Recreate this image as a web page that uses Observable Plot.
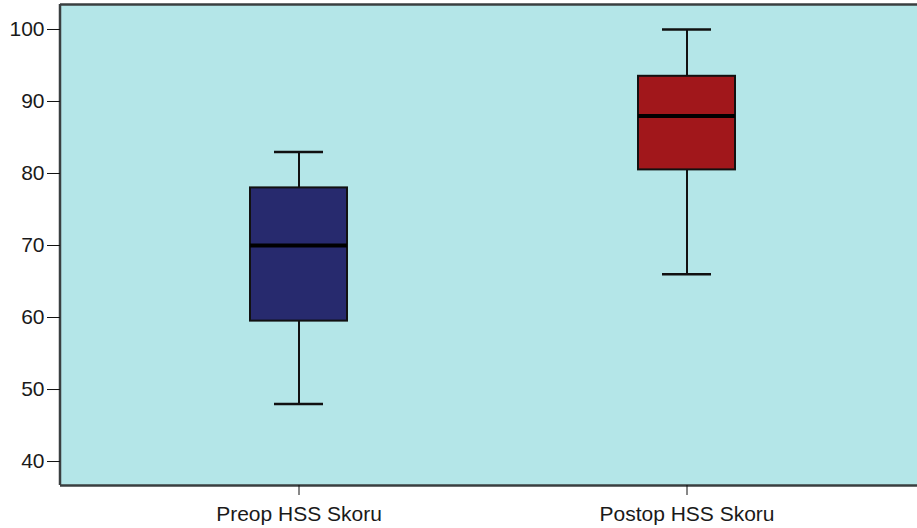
<!DOCTYPE html>
<html>
<head>
<meta charset="utf-8">
<script src="https://cdn.jsdelivr.net/npm/d3@7"></script>
<script src="https://cdn.jsdelivr.net/npm/@observablehq/plot@0.6"></script>
<style>
  html, body { margin: 0; padding: 0; background: #ffffff; }
  #chart svg { display: block; }
</style>
</head>
<body>
<div id="chart"></div>
<script>
const categories = ["Preop HSS Skoru", "Postop HSS Skoru"];
const mins = [48, 66];
const q1s = [59.5, 80.5];
const medians = [70, 88];
const q3s = [78, 93.5];
const maxs = [83, 100];
const boxColors = ["#272a6e", "#a1171b"];
const yTicks = [40, 50, 60, 70, 80, 90, 100];

const data = categories.map((c, i) => ({
  cat: c, min: mins[i], q1: q1s[i], med: medians[i], q3: q3s[i], max: maxs[i], color: boxColors[i]
}));

const yDomain = [36.67, 103.47];
const ink = "#111111";
const frameInk = "#3a3f40";

// left border of the plot frame
function leftBorder(index, scales, values, dims) {
  const x = dims.marginLeft;
  return d3.create("svg:line")
    .attr("x1", x).attr("x2", x)
    .attr("y1", scales.y(yDomain[0])).attr("y2", scales.y(yDomain[1]))
    .attr("stroke", frameInk).attr("stroke-width", 2.5)
    .node();
}

const chart = Plot.plot({
  width: 917,
  height: 528,
  marginLeft: 60,
  marginRight: 0,
  marginTop: 4,
  marginBottom: 43,
  style: { fontFamily: "'Liberation Sans', Arial, sans-serif", fontSize: "21px", color: "#1a1a1a", background: "#fff" },
  x: {
    domain: categories, label: null,
    paddingInner: 0.75, paddingOuter: 0.4766, align: 0.512
  },
  y: {
    domain: yDomain, label: null
  },
  color: { type: "identity" },
  marks: [
    Plot.frame({ fill: "#b4e6e8", stroke: null }),
    Plot.ruleX(data, { x: "cat", y1: "min", y2: "q1", stroke: ink, strokeWidth: 2 }),
    Plot.ruleX(data, { x: "cat", y1: "q3", y2: "max", stroke: ink, strokeWidth: 2 }),
    Plot.tickY(data, { x: "cat", y: "min", stroke: ink, strokeWidth: 2.5, insetLeft: 24, insetRight: 24 }),
    Plot.tickY(data, { x: "cat", y: "max", stroke: ink, strokeWidth: 2.5, insetLeft: 24, insetRight: 24 }),
    Plot.barY(data, { x: "cat", y1: "q1", y2: "q3", fill: "color", stroke: ink, strokeWidth: 2 }),
    Plot.tickY(data, { x: "cat", y: "med", stroke: "#000", strokeWidth: 4 }),
    Plot.ruleY(yDomain, { stroke: frameInk, strokeWidth: 2.5 }),
    leftBorder,
    Plot.axisY({ ticks: yTicks, tickSize: 13, tickPadding: 3, stroke: ink }),
    Plot.axisX({ tickSize: 10, tickPadding: 11, stroke: ink })
  ]
});
document.getElementById("chart").append(chart);
</script>
</body>
</html>
